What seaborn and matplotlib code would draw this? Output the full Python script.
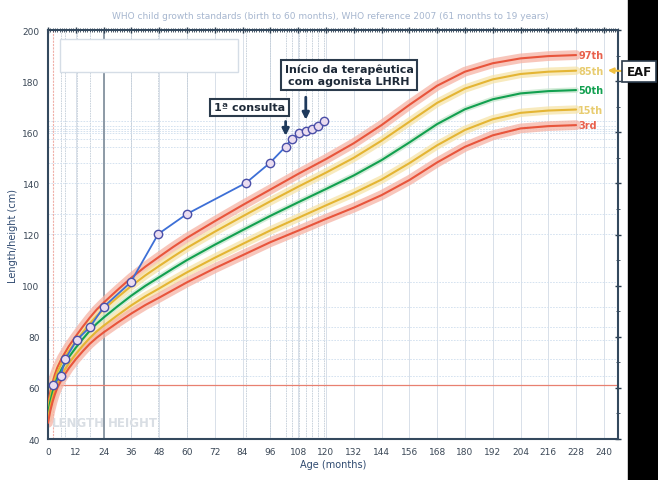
import matplotlib
matplotlib.use("Agg")
import matplotlib.pyplot as plt
from matplotlib.patches import Rectangle
from matplotlib.ticker import MultipleLocator
import seaborn as sns

# WHO boys length/height-for-age percentiles (cm)
ages = [0, 1, 2, 3, 4, 6, 9, 12, 15, 18, 21, 24, 30, 36, 42, 48, 54, 60, 72, 84,
        96, 108, 120, 132, 144, 156, 168, 180, 192, 204, 216, 228]
p3 = [46.3, 51.0, 54.6, 57.5, 59.9, 63.5, 67.7, 71.2, 74.3, 77.2, 79.6, 81.7, 85.5,
      89.1, 92.4, 95.3, 98.3, 101.3, 106.8, 111.9, 117.0, 121.5, 126.1, 130.5,
      135.4, 141.3, 148.2, 154.3, 158.8, 161.5, 162.4, 162.8]
p15 = [47.9, 52.7, 56.3, 59.3, 61.7, 65.3, 69.6, 73.2, 76.5, 79.5, 82.1, 84.3, 88.4,
       92.3, 95.8, 98.9, 102.1, 105.2, 110.9, 116.3, 121.6, 126.5, 131.4, 136.2,
       141.5, 147.9, 154.9, 160.9, 165.1, 167.6, 168.5, 168.9]
p50 = [49.9, 54.7, 58.4, 61.4, 63.9, 67.6, 72.0, 75.7, 79.1, 82.3, 85.1, 87.5, 91.9,
       96.1, 99.9, 103.3, 106.7, 110.0, 116.0, 121.7, 127.3, 132.6, 137.8, 143.1,
       149.1, 156.0, 163.2, 169.0, 172.9, 175.2, 176.1, 176.5]
p85 = [51.9, 56.7, 60.5, 63.5, 66.1, 69.9, 74.4, 78.2, 81.7, 85.1, 88.1, 90.7, 95.4,
       99.9, 104.0, 107.7, 111.3, 114.8, 121.1, 127.1, 133.0, 138.7, 144.2, 150.0,
       156.7, 164.1, 171.5, 177.1, 180.7, 182.8, 183.7, 184.1]
p97 = [53.5, 58.4, 62.2, 65.3, 67.9, 71.7, 76.3, 80.2, 83.9, 87.4, 90.6, 93.3, 98.3,
       103.1, 107.4, 111.3, 115.1, 118.7, 125.2, 131.5, 137.6, 143.7, 149.5, 155.7,
       162.8, 170.7, 178.2, 183.7, 187.0, 188.9, 189.8, 190.2]

# patient measurements
pat_age = [2.3, 5.5, 7.5, 12.4, 18.1, 24.2, 35.7, 47.6, 59.9, 85.5, 95.8, 102.6,
           105.2, 108.5, 111.6, 113.8, 116.7, 119.1]
pat_height = [61.1, 64.8, 71.3, 78.7, 83.8, 91.8, 101.3, 120.2, 128.0, 140.2, 148.0,
              154.4, 157.4, 159.7, 160.6, 161.3, 162.6, 164.3]

pct_labels = ["97th", "85th", "50th", "15th", "3rd"]
x_ticks = list(range(0, 241, 12))
y_ticks = list(range(40, 201, 20))

sns.set_style("white")
plt.rcParams['font.family'] = ['DejaVu Sans']

fig = plt.figure(figsize=(6.58, 4.81), dpi=100)
ax = fig.add_axes([0.0729, 0.0852, 0.866, 0.8503])
ax.set_xlim(0, 246)
ax.set_ylim(40, 200)

# reference grid
for xv in x_ticks[1:]:
    ax.axvline(xv, color='#d8e0e9', lw=0.7, zorder=0)
ax.axvline(24, color='#8d9aa6', lw=1.4, zorder=0.5)
for xv in pat_age[1:]:
    ax.axvline(xv, color='#c3cdd8', lw=0.6, ls=(0, (2, 1)), zorder=0)
for yv in pat_height[1:]:
    ax.axhline(yv, color='#cfdeee', lw=0.6, ls=(0, (2, 1.5)), zorder=0)
ax.axhline(pat_height[0], color='#e88070', lw=0.9, zorder=0.5)
ax.axvline(pat_age[0], color='#f0b0a8', lw=0.8, ls=(0, (2, 1)), zorder=0.5)

# empty legend box
ax.add_patch(Rectangle((5.2, 183.6), 76.8, 12.8, fc='white', ec='#d5dde6', lw=1, zorder=1))

ax.text(1.5, 46.5, "LENGTH", fontsize=8.5, fontweight='bold', color='#d9dee4', va='center', zorder=1)
ax.text(26, 46.5, "HEIGHT", fontsize=8.5, fontweight='bold', color='#d9dee4', va='center', zorder=1)

# percentile curves with glow
curves = [(p97, '#e8553c', '#f6b3a5', 7), (p85, '#e4b534', '#f6e4a8', 6),
          (p50, '#12a050', '#c6e6cd', 4), (p15, '#e4b534', '#f6e4a8', 6),
          (p3, '#e8553c', '#f6b3a5', 7)]
for vals, col, glow, gw in curves:
    sns.lineplot(x=ages, y=vals, ax=ax, color=glow, lw=gw, alpha=0.75, zorder=2)
for vals, col, glow, gw in curves:
    sns.lineplot(x=ages, y=vals, ax=ax, color=col, lw=1.5, zorder=3)

lab_cols = ['#e8604c', '#e8cc70', '#12a050', '#e8cc70', '#e8604c']
for (vals, _, _, _), lab, lc in zip(curves, pct_labels, lab_cols):
    ax.text(229, vals[-1], lab, fontsize=7, fontweight='bold', color=lc, va='center', zorder=4)

# patient growth
sns.lineplot(x=pat_age, y=pat_height, ax=ax, color='#3d6fd6', lw=1.3, marker='o',
             markersize=6, markerfacecolor='#eadcf0', markeredgecolor='#4a4fa8',
             markeredgewidth=1, sort=False, zorder=5)

# annotations
box = dict(boxstyle='square,pad=0.35', fc='white', ec='#2b3b4c', lw=1.5)
ax.text(87, 169.7, "1ª consulta", fontsize=8, fontweight='bold', color='#1e2a38',
        ha='center', va='center', bbox=box, zorder=6)
ax.text(130, 182.4, "Início da terapêutica\ncom agonista LHRH", fontsize=8,
        fontweight='bold', color='#1e2a38', ha='center', va='center',
        linespacing=1.2, bbox=box, zorder=6)
arrow = dict(arrowstyle='-|>', color='#1f3a5c', lw=2, mutation_scale=10)
ax.annotate('', xy=(102.6, 157.5), xytext=(102.6, 165.3), arrowprops=arrow, zorder=6)
ax.annotate('', xy=(111.3, 163.8), xytext=(111.3, 174.8), arrowprops=arrow, zorder=6)

# ticks and spines
ax.set_xticks(x_ticks)
ax.set_yticks(y_ticks)
ax.xaxis.set_minor_locator(MultipleLocator(1))
ax.yaxis.set_minor_locator(MultipleLocator(10))
ax.tick_params(which='both', direction='inout', top=True, right=True, color='#2c3e50')
ax.tick_params(which='major', length=5, width=1, labelsize=6.5, labelcolor='#3a4756')
ax.tick_params(which='minor', length=3, width=0.6)
for sp in ax.spines.values():
    sp.set_color('#34495e')
    sp.set_linewidth(1.5)

ax.set_xlabel("Age (months)", fontsize=7, color='#2f4a70', labelpad=2)
ax.set_ylabel("Length/height (cm)", fontsize=7, color='#2f4a70', labelpad=3)

fig.text(0.5015, 0.965, "WHO child growth standards (birth to 60 months), WHO reference 2007 "
         "(61 months to 19 years)", fontsize=6.5, color='#a6b6cf', ha='center', va='center')

# black panel and EAF tag on the right
fig.patches.append(Rectangle((0.954, 0), 0.046, 1, transform=fig.transFigure,
                             color='black', zorder=0))
fig.text(0.952, 0.85, "EAF", fontsize=8.5, fontweight='bold', color='#111111',
         va='center', ha='left',
         bbox=dict(boxstyle='square,pad=0.35', fc='white', ec='#2b3b4c', lw=1.2))
ax.annotate('', xy=(240.5, 184.3), xycoords='data', xytext=(0.949, 0.85),
            textcoords='figure fraction',
            arrowprops=dict(arrowstyle='-|>', color='#f0c040', lw=1.5, mutation_scale=8),
            annotation_clip=False)

fig.savefig("out.png", dpi=100)
